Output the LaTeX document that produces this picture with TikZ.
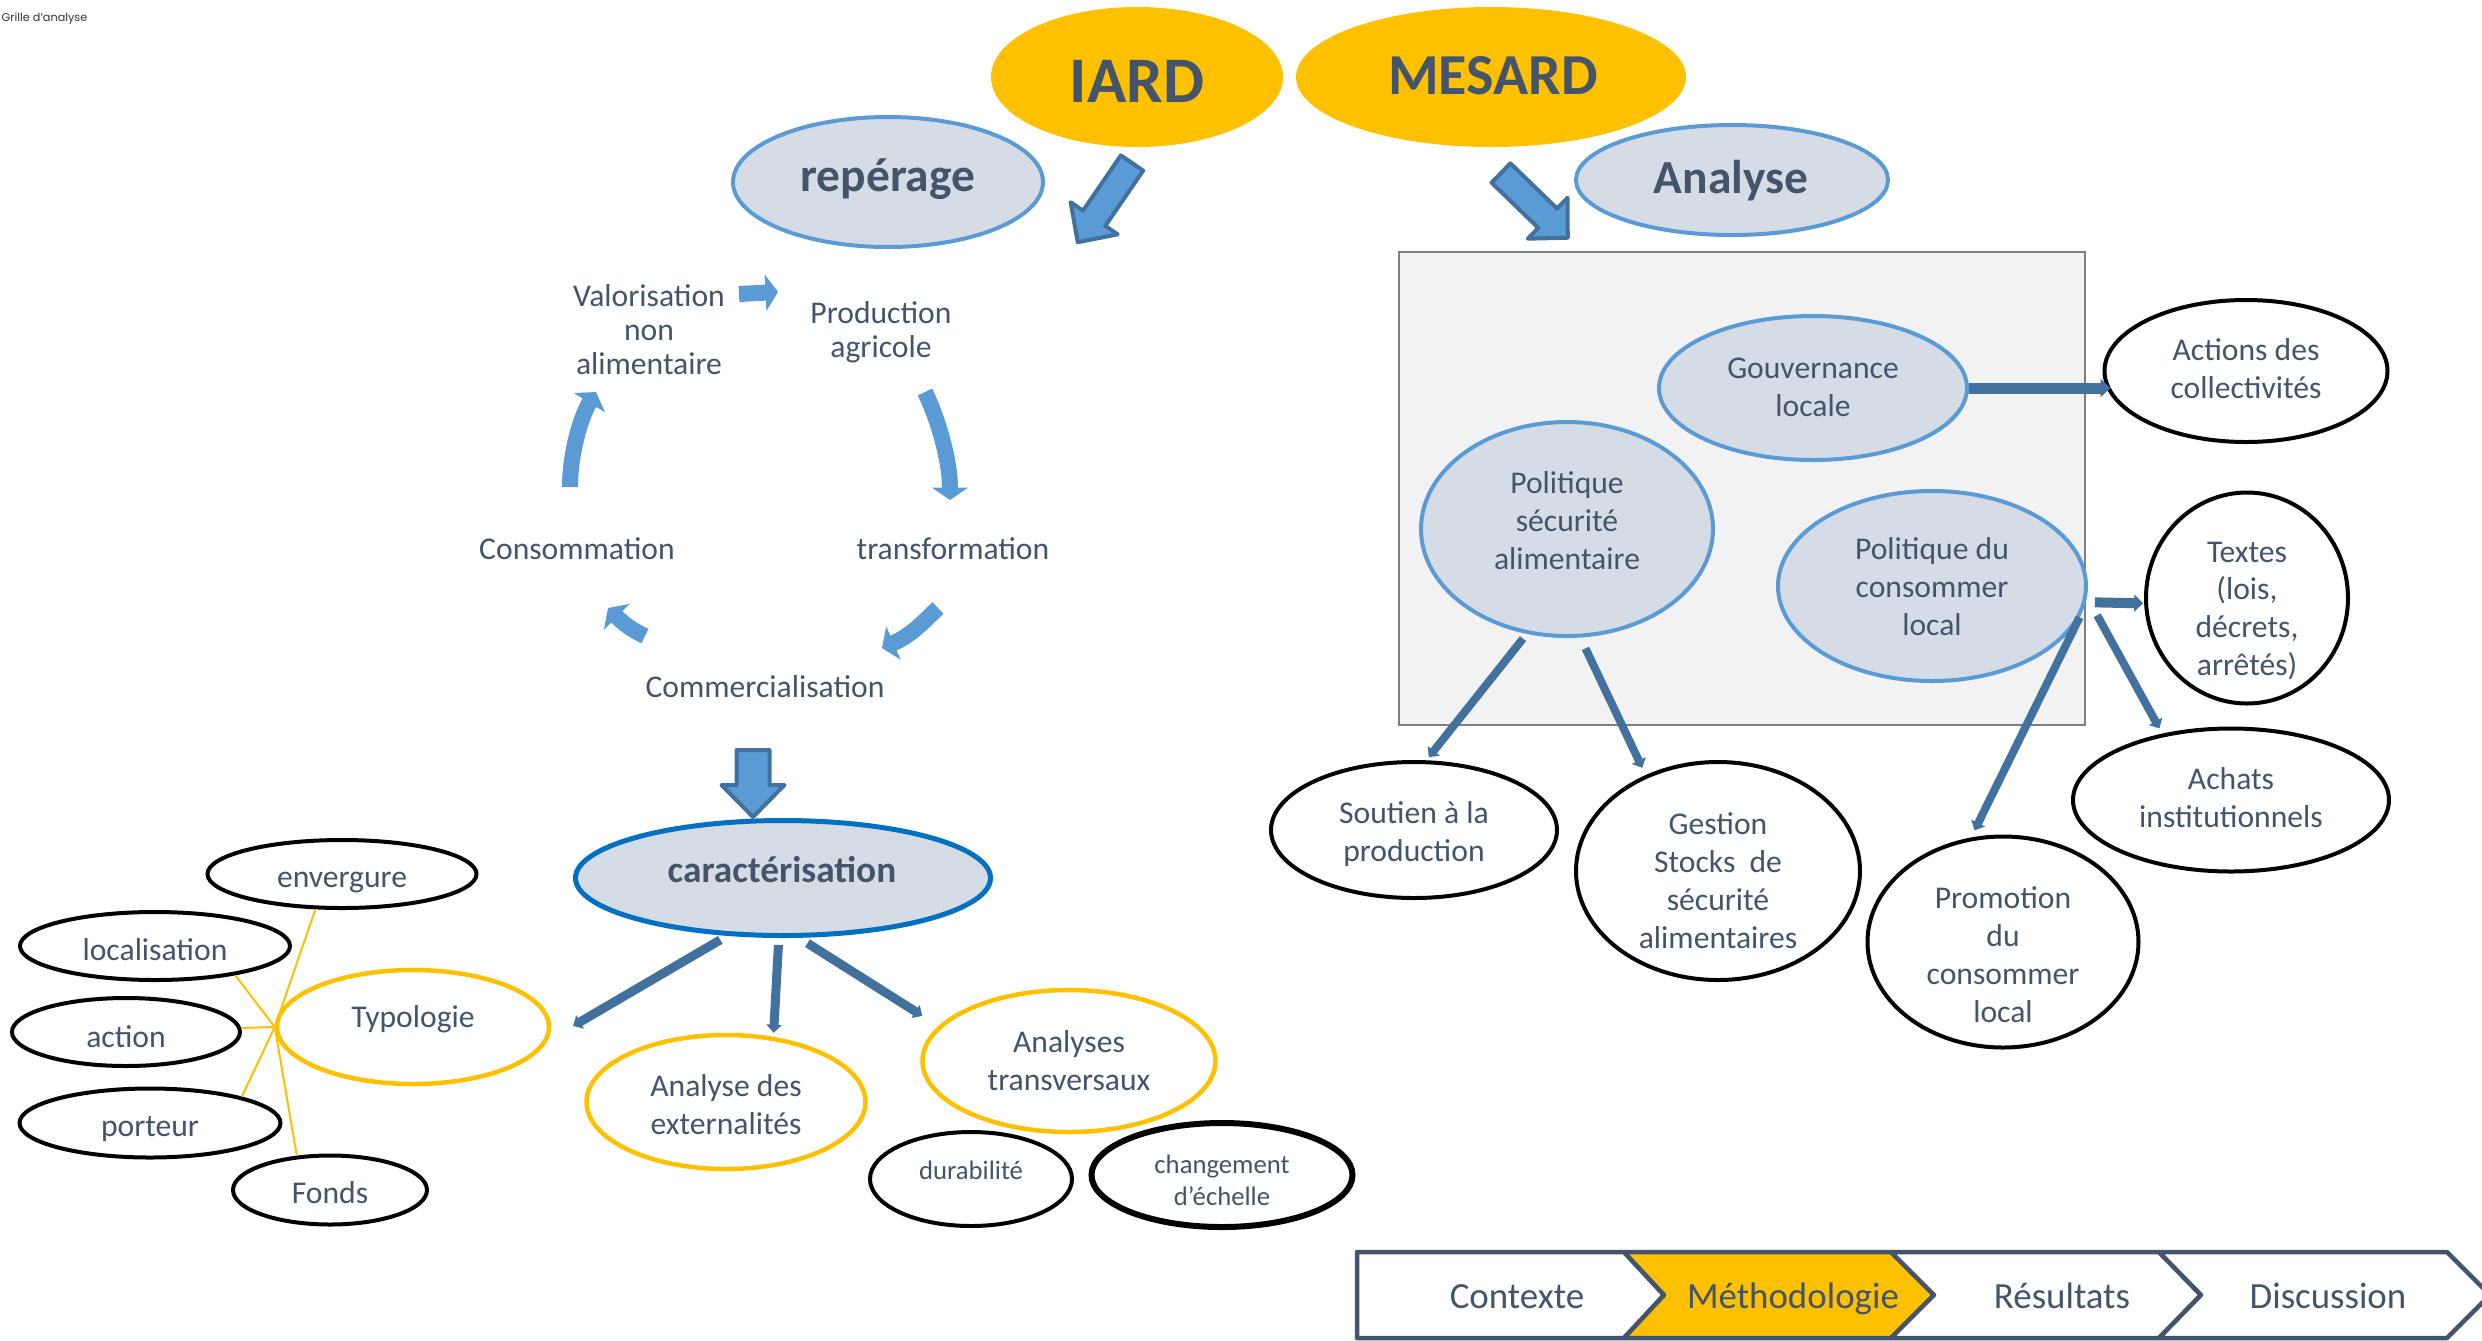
\documentclass[tikz,border=0pt]{standalone}
\usepackage{fontspec}
\setmainfont{Carlito}
\newfontfamily\gothfont{Poppins}
\usetikzlibrary{shapes.geometric,arrows.meta}
\definecolor{txtc}{HTML}{44546A}
\definecolor{orng}{HTML}{FFC000}
\definecolor{bstroke}{HTML}{5B9BD5}
\definecolor{bfill}{HTML}{D6DCE5}
\definecolor{cstroke}{HTML}{0070C0}
\definecolor{arrc}{HTML}{41719C}
\definecolor{boxf}{HTML}{F2F2F2}
\definecolor{boxd}{HTML}{7F7F7F}
\newcommand\blkarrow[7]{%
  \begin{scope}[shift={(#1,#2)},rotate=#3]
    \draw[blockarr] (0,{-#5/2}) -- ({#4-#7},{-#5/2}) -- ({#4-#7},{-#6/2}) -- (#4,0)
      -- ({#4-#7},{#6/2}) -- ({#4-#7},{#5/2}) -- (0,{#5/2}) -- cycle;
  \end{scope}}
\tikzset{
  ellbase/.style={ellipse, inner sep=0pt},
  yelE/.style={ellbase, fill=orng},
  bluE/.style={ellbase, draw=bstroke, fill=bfill, line width=0.4mm},
  carE/.style={ellbase, draw=cstroke, fill=bfill, line width=0.5mm},
  orgE/.style={ellbase, draw=orng, fill=white, line width=0.45mm},
  blkE/.style={ellbase, draw=black, fill=white, line width=0.4mm},
  lbl/.style={text=txtc, align=center, inner sep=0pt, font=\fontsize{9pt}{10.8pt}\selectfont},
  cyc/.style={text=txtc, align=center, inner sep=0pt, font=\fontsize{9pt}{9.65pt}\selectfont},
  small/.style={text=txtc, align=center, inner sep=0pt, font=\fontsize{7.6pt}{9.1pt}\selectfont},
  hd/.style={text=txtc, inner sep=0pt, anchor=base, font=\bfseries\fontsize{#1}{#1}\selectfont},
  navtxt/.style={text=txtc, inner sep=0pt, anchor=base, font=\fontsize{10.5pt}{12pt}\selectfont},
  conn/.style={draw=arrc, line width=0.8mm, -{Triangle[width=1.5mm,length=0.8mm]}},
  cycarr/.style={draw=bstroke, line width=1.6mm, -{Triangle[width=3.6mm,length=1.25mm]}},
  blockarr/.style={fill=bstroke, draw=arrc, line width=0.4mm, line join=round},
  yl/.style={draw=orng, line width=0.2mm},
  navseg/.style={draw=txtc, line width=0.45mm, line join=round, fill=white},
}
\begin{document}
\begin{tikzpicture}[x=0.1mm,y=-0.1mm]
\useasboundingbox (0,0) rectangle (2482,1340);

% title
\node[anchor=base west, inner sep=0pt, text=black!80, font=\gothfont\fontsize{3.2pt}{4pt}\selectfont] (grille) at (1,21) {Grille d’analyse};

% ---------- headers ----------
\node[yelE, minimum width=29.2mm, minimum height=14mm] (iard) at (1137,77) {};
\node[hd=18.5pt] (iard-t) at (1137,102) {IARD};
\node[yelE, minimum width=39mm, minimum height=14mm] (mesard) at (1491,77) {};
\node[hd=16.5pt] (mesard-t) at (1493,94) {MESARD};

\node[bluE, minimum width=31mm, minimum height=13mm] (rep) at (888,182) {};
\node[hd=13.5pt] (rep-t) at (888,191) {repérage};
\node[bluE, minimum width=31.2mm, minimum height=11mm] (analyse) at (1732,180) {};
\node[hd=13.5pt] (analyse-t) at (1731,193) {Analyse};

\blkarrow{1132}{163}{235.6}{96}{27}{57}{29}
\blkarrow{1501}{173}{315.9}{93}{27}{57}{28}

% ---------- cycle ----------
\node[cyc] (valo) at (649,330) {Valorisation\\non\\alimentaire};
\node[cyc] (prod) at (881,332) {Production\\agricole};
\node[cyc, anchor=base] (transf) at (953,559) {transformation};
\node[cyc, anchor=base] (conso) at (577,559) {Consommation};
\node[cyc, anchor=base] (comm) at (765,697) {Commercialisation};

\coordinate (c1s) at (739,294); \coordinate (c1e) at (778,292);
\coordinate (c2s) at (925,392); \coordinate (c2e) at (950,500);
\coordinate (c3s) at (938,608); \coordinate (c3e) at (882,648);
\coordinate (c4s) at (645,636); \coordinate (c4e) at (608,608);
\coordinate (c5s) at (570,487); \coordinate (c5e) at (596,392);
\draw[cycarr] (c1s) -- (c1e);
\draw[cycarr] (c2s) .. controls (938,419) and (950,460) .. (c2e);
\draw[cycarr] (c3s) .. controls (923,622) and (912,635) .. (c3e);
\draw[cycarr] (c4s) .. controls (634,631) and (625,625) .. (c4e);
\draw[cycarr] (c5s) .. controls (570,455) and (580,418) .. (c5e);

\blkarrow{753}{750}{270}{67}{33}{63}{32}

% ---------- caracterisation ----------
\node[carE, minimum width=41.5mm, minimum height=11.5mm] (carac) at (783,878) {};
\node[hd=10.6pt] (carac-t) at (782,882) {caractérisation};

\node[orgE, minimum width=27.2mm, minimum height=11.4mm] (typ) at (413,1027) {};
\node[lbl, anchor=base] (typ-t) at (413,1027) {Typologie};
\node[orgE, minimum width=27.9mm, minimum height=13.4mm] (ext) at (726,1102) {};
\node[lbl] (ext-t) at (726,1105) {Analyse des\\externalités};
\node[orgE, minimum width=29.3mm, minimum height=14.2mm] (trans) at (1069,1061) {};
\node[lbl] (trans-t) at (1069,1061) {Analyses\\transversaux};
\node[blkE, minimum width=20.2mm, minimum height=9.4mm] (dura) at (971,1179) {};
\node[small, anchor=base] (dura-t) at (971,1179) {durabilité};
\node[blkE, line width=0.6mm, minimum width=26.1mm, minimum height=10.4mm] (chg) at (1222,1175) {};
\node[small] (chg-t) at (1222,1180) {changement\\d’échelle};

\node[blkE, minimum width=26.9mm, minimum height=6.8mm] (env) at (342,874) {};
\node[lbl, anchor=base] (env-t) at (342,887) {envergure};
\node[blkE, minimum width=27mm, minimum height=6.8mm] (loc) at (155,946) {};
\node[lbl, anchor=base] (loc-t) at (155,960) {localisation};
\node[blkE, minimum width=22.8mm, minimum height=6.8mm] (action) at (126,1032) {};
\node[lbl, anchor=base] (action-t) at (126,1047) {action};
\node[blkE, minimum width=26.1mm, minimum height=6.9mm] (porteur) at (150,1123) {};
\node[lbl, anchor=base] (porteur-t) at (150,1136) {porteur};
\node[blkE, minimum width=19.4mm, minimum height=6.9mm] (fonds) at (330,1190) {};
\node[lbl, anchor=base] (fonds-t) at (330,1203) {Fonds};

\draw[yl] (typ.west) -- (env.233);
\draw[yl] (typ.west) -- (loc.-20);
\draw[yl] (typ.west) -- (action.2);
\draw[yl] (typ.west) -- (porteur.16);
\draw[yl] (typ.west) -- (fonds.134);

\draw[conn, line width=0.9mm, shorten <=0.8mm, shorten >=3mm] (carac.226) -- (typ.-6);
\draw[conn, line width=0.9mm, shorten <=0.7mm, shorten >=0.4mm] (carac.266) -- (ext.54);
\draw[conn, line width=0.9mm, shorten <=1mm, shorten >=1.9mm] (carac.285) -- (trans.165);

% ---------- right part ----------
\draw[fill=boxf, draw=boxd, line width=0.25mm] (1399,252) rectangle (2085,725);
\node[bluE, minimum width=30.8mm, minimum height=14.4mm] (gouv) at (1813,388) {};
\node[lbl] (gouv-t) at (1813,387) {Gouvernance\\locale};
\node[bluE, minimum width=29.2mm, minimum height=21.4mm] (psa) at (1567,529) {};
\node[lbl] (psa-t) at (1567,521) {Politique\\sécurité\\alimentaire};
\node[bluE, minimum width=30.8mm, minimum height=19mm] (pcl) at (1932,586) {};
\node[lbl] (pcl-t) at (1932,587) {Politique du\\consommer\\local};

\node[blkE, minimum width=28.3mm, minimum height=14.2mm] (act) at (2246,371) {};
\node[lbl] (act-t) at (2246,369) {Actions des\\collectivités};
\node[blkE, minimum width=20.2mm, minimum height=21.1mm] (textes) at (2247,598) {};
\node[lbl] (textes-t) at (2247,611) {Textes\\(lois,\\décrets,\\arrêtés)};
\node[blkE, minimum width=31.6mm, minimum height=14.3mm] (achats) at (2231,800) {};
\node[lbl] (achats-t) at (2231,798) {Achats\\institutionnels};
\node[blkE, minimum width=27.1mm, minimum height=21.1mm] (promo) at (2003,942) {};
\node[lbl] (promo-t) at (2003,955) {Promotion\\du\\consommer\\local};
\node[blkE, minimum width=28.4mm, minimum height=21.8mm] (gestion) at (1718,871) {};
\node[lbl] (gestion-t) at (1718,881) {Gestion\\Stocks~ de\\sécurité\\alimentaires};
\node[blkE, minimum width=28.6mm, minimum height=13.6mm] (soutien) at (1414,830) {};
\node[lbl] (soutien-t) at (1414,834) {Soutien à la\\production};

\draw[conn, line width=1.1mm, -{Triangle[width=1.8mm,length=1mm]}, shorten >=-0.8mm] (gouv.east) -- (gouv.east -| act.west);
\draw[conn, line width=1mm, -{Triangle[width=1.7mm,length=0.9mm]}, shorten <=0.9mm, shorten >=0.1mm] (pcl.-6) -- (textes.183);
\draw[conn, shorten <=2.1mm, shorten >=0.6mm] (pcl.-4) -- (achats.136);
\draw[conn, shorten >=0.8mm] (pcl.-12) -- (promo.107);
\draw[conn, shorten <=0.6mm, shorten >=0.4mm] (psa.249) -- (soutien.80);
\draw[conn, shorten <=1.2mm, shorten >=0.8mm] (psa.-83) -- (gestion.127);

% ---------- navigation bar ----------
\draw[navseg] (1357,1252) -- (1624,1252) -- (1664,1295) -- (1624,1338) -- (1357,1338) -- cycle;
\draw[navseg, fill=orng] (1624,1252) -- (1891,1252) -- (1934,1295) -- (1891,1338) -- (1624,1338) -- (1664,1295) -- cycle;
\draw[navseg] (1891,1252) -- (2159,1252) -- (2201,1295) -- (2159,1338) -- (1891,1338) -- (1934,1295) -- cycle;
\draw[navseg] (2159,1252) -- (2447,1252) -- (2490,1295) -- (2447,1338) -- (2159,1338) -- (2201,1295) -- cycle;
\node[navtxt] (nav1) at (1517,1308) {Contexte};
\node[navtxt] (nav2) at (1793,1308) {Méthodologie};
\node[navtxt] (nav3) at (2062,1308) {Résultats};
\node[navtxt] (nav4) at (2328,1308) {Discussion};
\end{tikzpicture}
\end{document}
